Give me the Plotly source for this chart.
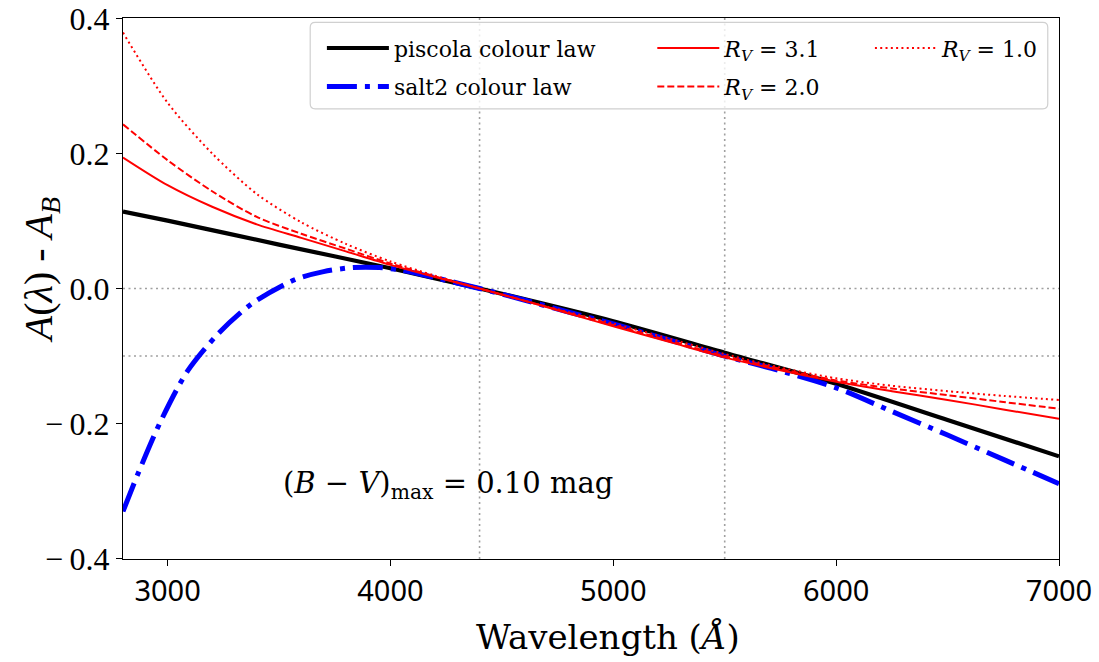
import plotly.graph_objects as go

# Wavelength grids (Angstrom) and colour-law values A(lambda) - A_B
wave_piscola = [2800, 3000, 3500, 4000, 4400, 5000, 5500, 6000, 6500, 7000]
piscola_law = [0.114, 0.1005, 0.065, 0.030, 0.0, -0.0485, -0.095, -0.141, -0.1946, -0.2485]

wave_salt2 = [2800, 2870, 2970, 3090, 3230, 3380, 3570, 3700, 3830, 3950, 4050,
              4200, 4400, 4600, 4800, 5000, 5250, 5500, 5750, 6000, 6250, 6500, 6750, 7000]
salt2_law = [-0.330, -0.272, -0.196, -0.122, -0.066, -0.022, 0.013, 0.025, 0.031, 0.031, 0.027,
             0.016, 0.0, -0.017, -0.035, -0.0525, -0.076, -0.100, -0.122, -0.147, -0.182,
             -0.217, -0.253, -0.289]

wave_ccm = [2800, 3000, 3200, 3400, 3600, 3800, 4000, 4200, 4400, 4600, 4800, 5000,
            5250, 5500, 5750, 6000, 6250, 6500, 6750, 7000]
rv31 = [0.194, 0.153, 0.121, 0.095, 0.075, 0.055, 0.035, 0.017, 0.0, -0.018, -0.037, -0.056,
        -0.079, -0.102, -0.121, -0.138, -0.152, -0.165, -0.179, -0.193]
rv20 = [0.243, 0.190, 0.144, 0.106, 0.081, 0.059, 0.037, 0.018, 0.0, -0.018, -0.036, -0.054,
        -0.077, -0.100, -0.119, -0.136, -0.148, -0.158, -0.168, -0.178]
rv10 = [0.379, 0.275, 0.200, 0.140, 0.098, 0.066, 0.040, 0.019, 0.0, -0.018, -0.035, -0.052,
        -0.074, -0.097, -0.117, -0.133, -0.144, -0.152, -0.159, -0.165]

x_ticks = [3000, 4000, 5000, 6000, 7000]
y_ticks = [-0.4, -0.2, 0.0, 0.2, 0.4]
y_ticktext = ["−\u20090.4", "−\u20090.2", "0.0", "0.2", "0.4"]
ref_waves = [4400, 5500]
ref_levels = [0.0, -0.1]

SERIF = "DejaVu Serif"
MATH = "Liberation Serif"

fig = go.Figure()

fig.add_trace(go.Scatter(x=wave_piscola, y=piscola_law, mode="lines",
                         name="piscola colour law", legend="legend", legendgroup="p",
                         legendrank=1,
                         line=dict(color="black", width=4.2, shape="spline", smoothing=0.6)))
fig.add_trace(go.Scatter(x=wave_salt2, y=salt2_law, mode="lines",
                         name="salt2 colour law", legend="legend", legendgroup="s",
                         legendrank=2,
                         line=dict(color="blue", width=5, shape="spline", smoothing=0.8,
                                   dash="30px,8px,5px,8px")))
fig.add_trace(go.Scatter(x=wave_ccm, y=rv31, mode="lines",
                         name="<i>R</i><sub><i>V</i></sub> = 3.1", legend="legend2",
                         legendgroup="r31", legendrank=1,
                         line=dict(color="red", width=2, shape="spline", smoothing=0.8)))
fig.add_trace(go.Scatter(x=wave_ccm, y=rv20, mode="lines",
                         name="<i>R</i><sub><i>V</i></sub> = 2.0", legend="legend2",
                         legendgroup="r20", legendrank=2,
                         line=dict(color="red", width=2, shape="spline", smoothing=0.8,
                                   dash="7px,3px")))
fig.add_trace(go.Scatter(x=wave_ccm, y=rv10, mode="lines",
                         name="<i>R</i><sub><i>V</i></sub> = 1.0", legend="legend3",
                         legendgroup="r10", legendrank=1,
                         line=dict(color="red", width=2, shape="spline", smoothing=0.8,
                                   dash="2px,3.3px")))

# dotted reference lines at the B and V effective wavelengths and levels
for w in ref_waves:
    fig.add_vline(x=w, line=dict(color="#a0a0a0", width=1.6, dash="2px,3.5px"), layer="below")
for lv in ref_levels:
    fig.add_hline(y=lv, line=dict(color="#a0a0a0", width=1.6, dash="2px,3.5px"), layer="below")

# legend frame with rounded corners (paper coordinates)
x0, x1, y0, y1, r, ry = 0.200, 0.988, 0.832, 0.992, 0.0053, 0.0093
fig.add_shape(type="path", xref="paper", yref="paper",
              path=(f"M{x0+r},{y0} L{x1-r},{y0} Q{x1},{y0} {x1},{y0+ry} "
                    f"L{x1},{y1-ry} Q{x1},{y1} {x1-r},{y1} L{x0+r},{y1} "
                    f"Q{x0},{y1} {x0},{y1-ry} L{x0},{y0+ry} Q{x0},{y0} {x0+r},{y0} Z"),
              line=dict(color="#d0d0d0", width=1.2), fillcolor="rgba(255,255,255,0.8)",
              layer="above")

legend_common = dict(bgcolor="rgba(0,0,0,0)", borderwidth=0, yanchor="top",
                     font=dict(family=SERIF, size=22, color="black"),
                     tracegroupgap=7, itemwidth=62)
fig.update_layout(
    legend=dict(x=0.2125, y=0.983, **legend_common),
    legend2=dict(x=0.5655, y=0.983, **legend_common),
    legend3=dict(x=0.798, y=0.983, **legend_common),
)

fig.add_annotation(x=4258, y=-0.291, xref="x", yref="y", showarrow=False,
                   text="(<i>B</i> − <i>V</i>)<sub>max</sub> = 0.10 mag",
                   font=dict(family=SERIF, size=29, color="black"))

# axis titles
fig.add_annotation(x=0.518, y=-0.144, xref="paper", yref="paper", showarrow=False,
                   xanchor="center", yanchor="middle",
                   text="Wavelength (<i>Å</i>)",
                   font=dict(family=SERIF, size=34, color="black"))
fig.add_annotation(x=-0.0875, y=0.534, xref="paper", yref="paper", showarrow=False,
                   xanchor="center", yanchor="middle", textangle=-90,
                   text="<i>A</i>(<i>λ</i>) - <i>A</i><sub><i>B</i></sub>",
                   font=dict(family=MATH, size=40, color="black"))

fig.update_xaxes(range=[2800, 7000], tickvals=x_ticks, ticks="outside", ticklen=6,
                 tickwidth=1.2, tickcolor="black", showline=True, linecolor="black",
                 linewidth=1.4, mirror=True, showgrid=False, zeroline=False,
                 automargin=False,
                 tickfont=dict(family="Noto Sans", size=29, color="black"))
fig.update_yaxes(range=[-0.4005, 0.4005], tickvals=y_ticks, ticktext=y_ticktext,
                 ticks="outside", ticklen=6, tickwidth=1.2, tickcolor="black",
                 showline=True, linecolor="black", linewidth=1.4, mirror=True,
                 showgrid=False, zeroline=False, ticklabeloverflow="allow",
                 automargin=False,
                 tickfont=dict(family=MATH, size=32, color="black"))

fig.update_layout(width=1099, height=662, plot_bgcolor="white", paper_bgcolor="white",
                  margin=dict(l=123, r=40, t=18, b=103, autoexpand=False), showlegend=True)

fig.write_html("out.html")
